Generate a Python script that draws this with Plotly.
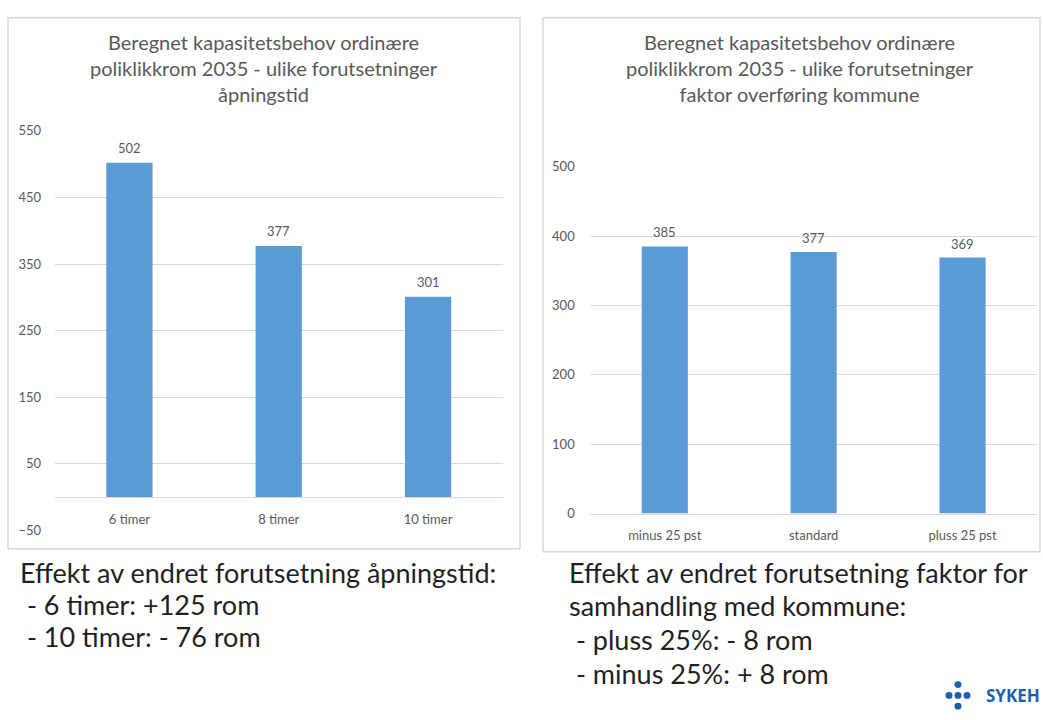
import plotly.graph_objects as go

W, H = 1043, 720

# ---- data ----
left_categories = ["6 timer", "8 timer", "10 timer"]
left_values = [502, 377, 301]
right_categories = ["minus 25 pst", "standard", "pluss 25 pst"]
right_values = [385, 377, 369]

left_title = "Beregnet kapasitetsbehov ordinære<br>poliklikkrom 2035 - ulike forutsetninger<br>åpningstid"
right_title = "Beregnet kapasitetsbehov ordinære<br>poliklikkrom 2035 - ulike forutsetninger<br>faktor overføring kommune"

left_notes = ["Effekt av endret forutsetning åpningstid:",
              " - 6 timer: +125 rom",
              " - 10 timer: - 76 rom"]
right_notes = ["Effekt av endret forutsetning faktor for",
               "samhandling med kommune:",
               " - pluss 25%: - 8 rom",
               " - minus 25%: + 8 rom"]

BAR = "#5b9bd5"
GRID = "#d9d9d9"
TXT = "#595959"
FONT = "Lato, Open Sans, sans-serif"


def px(x):
    return x / W


def py(y):
    return 1 - y / H


fig = go.Figure()
fig.add_trace(go.Bar(x=left_categories, y=left_values, marker_color=BAR,
                     marker_line_width=0, width=0.31, xaxis="x", yaxis="y",
                     hoverinfo="x+y"))
fig.add_trace(go.Bar(x=right_categories, y=right_values, marker_color=BAR,
                     marker_line_width=0, width=0.31, xaxis="x2", yaxis="y2",
                     hoverinfo="x+y"))

annotations = []
for c, v in zip(left_categories, left_values):
    annotations.append(dict(x=c, y=v, xref="x", yref="y", text=str(v), showarrow=False,
                            yshift=15, font=dict(size=13, color=TXT, family=FONT)))
for c, v in zip(right_categories, right_values):
    annotations.append(dict(x=c, y=v, xref="x2", yref="y2", text=str(v), showarrow=False,
                            yshift=14, font=dict(size=13, color=TXT, family=FONT)))

# chart titles
annotations.append(dict(x=px(264), y=py(61), xref="paper", yref="paper", text=left_title,
                        showarrow=False, xanchor="center", yanchor="middle",
                        font=dict(size=20, color=TXT, family=FONT)))
annotations.append(dict(x=px(800), y=py(61), xref="paper", yref="paper", text=right_title,
                        showarrow=False, xanchor="center", yanchor="middle",
                        font=dict(size=20, color=TXT, family=FONT)))

# notes below charts
for i, t in enumerate(left_notes):
    annotations.append(dict(x=px(18), y=py(577 + i * 33), xref="paper", yref="paper",
                            text=t.replace(" ", "&nbsp;") if t.startswith(" ") else t,
                            showarrow=False, xanchor="left", yanchor="middle",
                            font=dict(size=27, color="#1f1f1f", family=FONT)))
for i, t in enumerate(right_notes):
    annotations.append(dict(x=px(567), y=py(577 + i * 34.5), xref="paper", yref="paper",
                            text=t.replace(" ", "&nbsp;") if t.startswith(" ") else t,
                            showarrow=False, xanchor="left", yanchor="middle",
                            font=dict(size=27, color="#1f1f1f", family=FONT)))

# logo text
annotations.append(dict(x=px(984), y=py(703), xref="paper", yref="paper", text="<b>SYKEH</b>",
                        showarrow=False, xanchor="left", yanchor="middle",
                        font=dict(size=17, color="#1f5fae", family="Open Sans, sans-serif")))

shapes = [
    dict(type="rect", xref="paper", yref="paper", x0=px(8), x1=px(520), y0=py(553), y1=py(10),
         line=dict(color="#d9d9d9", width=1.5), fillcolor="rgba(0,0,0,0)", layer="below"),
    dict(type="rect", xref="paper", yref="paper", x0=px(543), x1=px(1040), y0=py(556), y1=py(10),
         line=dict(color="#d9d9d9", width=1.5), fillcolor="rgba(0,0,0,0)", layer="below"),
]
# logo dots
for (cx, cy) in [(949, 703), (958, 703), (967, 703), (958, 692), (958, 714)]:
    shapes.append(dict(type="circle", xref="paper", yref="paper",
                       x0=px(cx - 3.5), x1=px(cx + 3.5), y0=py(cy + 3.5), y1=py(cy - 3.5),
                       fillcolor="#1f5fae", line=dict(width=0)))

axis_font = dict(size=13, color=TXT, family=FONT)
fig.update_layout(
    width=W, height=H,
    margin=dict(l=0, r=0, t=0, b=0),
    paper_bgcolor="white", plot_bgcolor="white",
    showlegend=False,
    xaxis=dict(domain=[px(54.75), px(502.7)], anchor="free", position=py(500.3),
               showgrid=False, showline=True, linecolor=GRID, linewidth=1,
               tickfont=axis_font, ticks="outside", ticklen=10, tickcolor="rgba(0,0,0,0)",
               zeroline=False, fixedrange=True),
    yaxis=dict(domain=[py(534.3), py(125.7)], range=[-50, 550], tick0=-50, dtick=100,
               showgrid=True, gridcolor=GRID, gridwidth=1, zeroline=False, showline=False,
               tickfont=axis_font, ticks="outside", ticklen=10, tickcolor="rgba(0,0,0,0)",
               anchor="x", fixedrange=True),
    xaxis2=dict(domain=[px(590.3), px(1037)], anchor="y2",
                showgrid=False, showline=True, linecolor=GRID, linewidth=1,
                tickfont=axis_font, ticks="outside", ticklen=10, tickcolor="rgba(0,0,0,0)",
                zeroline=False, fixedrange=True),
    yaxis2=dict(domain=[py(517), py(162.3)], range=[0, 500], dtick=100,
                showgrid=True, gridcolor=GRID, gridwidth=1, zeroline=False, showline=False,
                tickfont=axis_font, ticks="outside", ticklen=12, tickcolor="rgba(0,0,0,0)",
                anchor="x2", fixedrange=True),
    annotations=annotations,
    shapes=shapes,
)

fig.write_html("out.html", config={"displayModeBar": False},
               post_script="document.body.style.margin='0';document.body.style.overflow='hidden';")
